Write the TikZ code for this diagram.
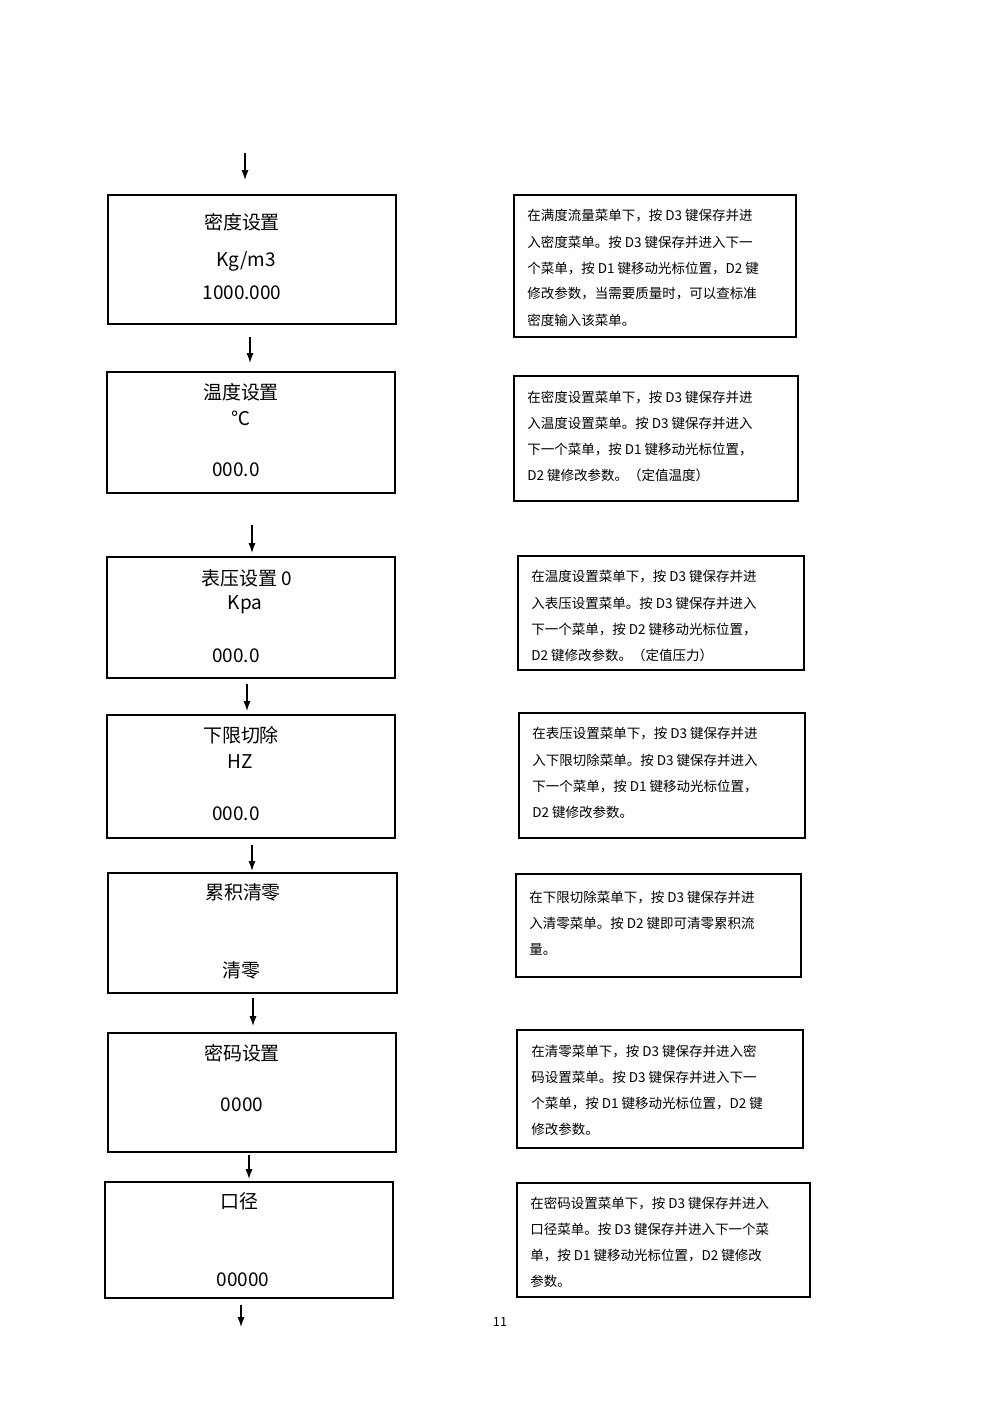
\documentclass[tikz,border=0pt]{standalone}
\usepackage{fontspec}
\setmainfont{Noto Sans CJK SC}
\usetikzlibrary{arrows.meta}
\begin{document}
\begin{tikzpicture}[x=0.025cm,y=-0.025cm,
  box/.style={draw,line width=0.9pt,inner sep=0pt},
  tl/.style={font=\fontsize{13.5}{15}\selectfont,anchor=center},
  rl/.style={font=\fontsize{9.6}{11}\selectfont,anchor=west,inner sep=0pt},
  arr/.style={-{Latex[length=7pt,width=5pt]},line width=0.9pt}]
\useasboundingbox (0,0) rectangle (1000,1414);
% left boxes
\draw[box] (108,195) rectangle (396,324);
\node[tl] (a1) at (242,222) {密度设置};
\node[tl] (a2) at (246,261) {Kg/m3};
\node[tl] (a3) at (242,293) {1000.000};
\draw[box] (107,372) rectangle (395,493);
\node[tl] (b1) at (241,392) {温度设置};
\node[tl] (b2) at (241,418) {℃};
\node[tl] (b3) at (236,470) {000.0};
\draw[box] (107,557) rectangle (395,678);
\node[tl] (c1) at (247,578) {表压设置 0};
\node[tl] (c2) at (245,605) {Kpa};
\node[tl] (c3) at (236,656) {000.0};
\draw[box] (107,715) rectangle (395,838);
\node[tl] (d1) at (241,735) {下限切除};
\node[tl] (d2) at (240,762) {HZ};
\node[tl] (d3) at (236,814) {000.0};
\draw[box] (108,873) rectangle (397,993);
\node[tl] (e1) at (243,892) {累积清零};
\node[tl] (e2) at (241,970) {清零};
\draw[box] (108,1033) rectangle (396,1152);
\node[tl] (f1) at (242,1053) {密码设置};
\node[tl] (f2) at (242,1105) {0000};
\draw[box] (105,1182) rectangle (393,1298);
\node[tl] (g1) at (239,1201) {口径};
\node[tl] (g2) at (243,1280) {00000};
% arrows
\coordinate (p0) at (245,153); \coordinate (q0) at (245,180);
\coordinate (p1) at (250,337); \coordinate (q1) at (250,363);
\coordinate (p2) at (252,525); \coordinate (q2) at (252,553);
\coordinate (p3) at (247,684); \coordinate (q3) at (247,711);
\coordinate (p4) at (252,845); \coordinate (q4) at (252,871);
\coordinate (p5) at (253,998); \coordinate (q5) at (253,1026);
\coordinate (p6) at (249,1155); \coordinate (q6) at (249,1179);
\coordinate (p7) at (241,1305); \coordinate (q7) at (241,1327);
\foreach \i in {0,...,7} \draw[arr] (p\i) -- (q\i);
% right boxes
\draw[box] (514,195) rectangle (796,337);
\node[rl] (r11) at (527,216) {在满度流量菜单下，按 D3 键保存并进};
\node[rl] (r12) at (527,242) {入密度菜单。按 D3 键保存并进入下一};
\node[rl] (r13) at (527,268) {个菜单，按 D1 键移动光标位置，D2 键};
\node[rl] (r14) at (527,294) {修改参数，当需要质量时，可以查标准};
\node[rl] (r15) at (527,320) {密度输入该菜单。};
\draw[box] (514,376) rectangle (798,501);
\node[rl] (r21) at (527,397) {在密度设置菜单下，按 D3 键保存并进};
\node[rl] (r22) at (527,423) {入温度设置菜单。按 D3 键保存并进入};
\node[rl] (r23) at (527,449) {下一个菜单，按 D1 键移动光标位置，};
\node[rl] (r24) at (527,475) {D2 键修改参数。（定值温度）};
\draw[box] (518,556) rectangle (804,670);
\node[rl] (r31) at (531,577) {在温度设置菜单下，按 D3 键保存并进};
\node[rl] (r32) at (531,603) {入表压设置菜单。按 D3 键保存并进入};
\node[rl] (r33) at (531,629) {下一个菜单，按 D2 键移动光标位置，};
\node[rl] (r34) at (531,655) {D2 键修改参数。（定值压力）};
\draw[box] (519,713) rectangle (805,838);
\node[rl] (r41) at (532,734) {在表压设置菜单下，按 D3 键保存并进};
\node[rl] (r42) at (532,760) {入下限切除菜单。按 D3 键保存并进入};
\node[rl] (r43) at (532,786) {下一个菜单，按 D1 键移动光标位置，};
\node[rl] (r44) at (532,812) {D2 键修改参数。};
\draw[box] (516,874) rectangle (801,977);
\node[rl] (r51) at (529,897) {在下限切除菜单下，按 D3 键保存并进};
\node[rl] (r52) at (529,923) {入清零菜单。按 D2 键即可清零累积流};
\node[rl] (r53) at (529,949) {量。};
\draw[box] (517,1030) rectangle (803,1148);
\node[rl] (r61) at (531,1051) {在清零菜单下，按 D3 键保存并进入密};
\node[rl] (r62) at (531,1077) {码设置菜单。按 D3 键保存并进入下一};
\node[rl] (r63) at (531,1103) {个菜单，按 D1 键移动光标位置，D2 键};
\node[rl] (r64) at (531,1129) {修改参数。};
\draw[box] (517,1183) rectangle (810,1297);
\node[rl] (r71) at (530,1203) {在密码设置菜单下，按 D3 键保存并进入};
\node[rl] (r72) at (530,1229) {口径菜单。按 D3 键保存并进入下一个菜};
\node[rl] (r73) at (530,1255) {单，按 D1 键移动光标位置，D2 键修改};
\node[rl] (r74) at (530,1281) {参数。};
\node[font=\fontsize{9}{10}\selectfont] (pg) at (500,1322) {11};
\end{tikzpicture}
\end{document}
